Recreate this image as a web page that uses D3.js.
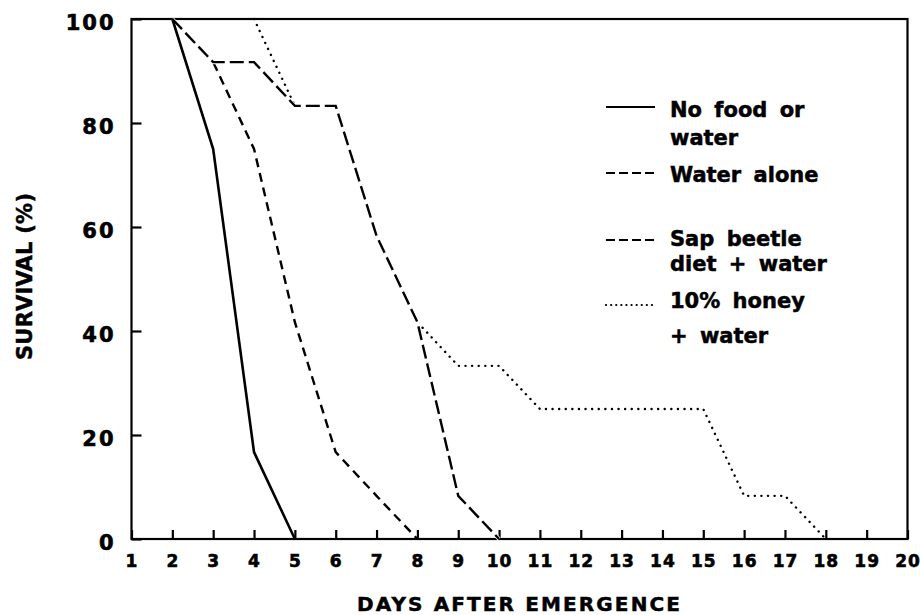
<!DOCTYPE html>
<html>
<head>
<meta charset="utf-8">
<script src="https://cdn.jsdelivr.net/npm/d3@7"></script>
<style>
  body { margin: 0; background: #fff; }
  text { font-family: "DejaVu Sans", sans-serif; font-weight: bold; fill: #000; }
</style>
</head>
<body>
<div id="chart"></div>
<script>
// survival (%) of 12 adults per treatment
const noFoodDays = [2, 3, 4, 5];
const noFoodSurvival = [100, 75, 16.7, 0];

const waterDays = [2, 3, 4, 5, 6, 7, 8];
const waterSurvival = [100, 91.7, 75, 41.7, 16.7, 8.3, 0];

const sapDays = [2, 3, 4, 5, 6, 7, 8, 9, 10];
const sapSurvival = [100, 91.7, 91.7, 83.3, 83.3, 58.3, 41.7, 8.3, 0];

const honeyDays = [4, 5, 6, 7, 8, 9, 10, 11, 12, 13, 14, 15, 16, 17, 18];
const honeySurvival = [100, 83.3, 83.3, 58.3, 41.7, 33.3, 33.3, 25, 25, 25, 25, 25, 8.3, 8.3, 0];

const xTicks = d3.range(1, 21);
const yTicks = [0, 20, 40, 60, 80, 100];

const legendLabels = [
    ["No food or", "water"],
    ["Water alone"],
    ["Sap beetle", "diet + water"],
    ["10% honey", "+ water"]
];

const width = 920, height = 615;
const plotLeft = 131.5, plotRight = 907.5, plotTop = 19, plotBottom = 539;

const svg = d3.select("#chart")
    .append("svg")
    .attr("width", width)
    .attr("height", height);

const x = d3.scaleLinear().domain([1, 20]).range([plotLeft, plotRight]);
const y = d3.scaleLinear().domain([0, 100]).range([plotBottom, plotTop]);

// frame
svg.append("rect")
    .attr("x", plotLeft).attr("y", plotTop)
    .attr("width", plotRight - plotLeft).attr("height", plotBottom - plotTop)
    .attr("fill", "none")
    .attr("stroke", "#000")
    .attr("stroke-width", 2.2);

const xAxis = svg.append("g")
    .attr("transform", `translate(0,${plotBottom})`)
    .call(d3.axisBottom(x).tickValues(xTicks).tickSize(-9).tickPadding(16).tickFormat(d3.format("d")));

const yAxis = svg.append("g")
    .attr("transform", `translate(${plotLeft},0)`)
    .call(d3.axisLeft(y).tickValues(yTicks).tickSize(-10).tickPadding(16));

[xAxis, yAxis].forEach(g => {
    g.select(".domain").remove();
    g.selectAll(".tick line").attr("stroke", "#000").attr("stroke-width", 2.2);
    g.selectAll(".tick text")
        .attr("fill", "#000")
        .attr("stroke", "#000")
        .attr("stroke-width", 0.6)
        .style("font-family", "'DejaVu Sans', sans-serif")
        .style("font-weight", "bold");
});
xAxis.selectAll(".tick text").style("font-size", "17px").attr("letter-spacing", 1);
yAxis.selectAll(".tick text").style("font-size", "21px").attr("letter-spacing", 2).attr("dy", "0.48em");

// axis titles
svg.append("text")
    .attr("x", (plotLeft + plotRight) / 2 - 1)
    .attr("y", 611)
    .attr("text-anchor", "middle")
    .attr("font-size", 20)
    .attr("stroke", "#000").attr("stroke-width", 0.5)
    .attr("textLength", 323)
    .attr("lengthAdjust", "spacing")
    .text("DAYS AFTER EMERGENCE");

svg.append("text")
    .attr("transform", "translate(31.5,276.5) rotate(-90)")
    .attr("text-anchor", "middle")
    .attr("font-size", 21)
    .attr("stroke", "#000").attr("stroke-width", 0.5)
    .attr("textLength", 167)
    .attr("lengthAdjust", "spacing")
    .text("SURVIVAL (%)");

const line = d3.line().x(d => x(d[0])).y(d => y(d[1]));
const pairs = (days, vals) => days.map((d, i) => [d, vals[i]]);

const series = [
    { days: noFoodDays, vals: noFoodSurvival, dash: null, w: 2.6, cap: "butt" },
    { days: waterDays, vals: waterSurvival, dash: "9,6", w: 2.4, cap: "butt" },
    { days: sapDays, vals: sapSurvival, dash: "14,5", w: 2.4, cap: "butt" },
    { days: honeyDays, vals: honeySurvival, dash: "0.1,6.5", w: 2.4, cap: "round" }
];

const plot = svg.append("g");

// honey first, then water alone, sap beetle over a white halo, solid on top
[3, 1, 2, 0].forEach(i => {
    const s = series[i];
    const data = pairs(s.days, s.vals);
    if (i === 2) {
        plot.append("path")
            .attr("d", line(data))
            .attr("fill", "none")
            .attr("stroke", "#fff")
            .attr("stroke-width", 4);
    }
    plot.append("path")
        .attr("d", line(data))
        .attr("fill", "none")
        .attr("stroke", "#000")
        .attr("stroke-width", s.w)
        .attr("stroke-dasharray", s.dash)
        .attr("stroke-linecap", s.cap)
        .attr("stroke-linejoin", "miter");
});

// legend
const legendY = [107, 173, 240, 305];
const legendBaselines = [[117, 145], [182], [246, 271], [308, 343]];
const legend = svg.append("g");

series.forEach((s, i) => {
    legend.append("line")
        .attr("x1", 606).attr("x2", 655)
        .attr("y1", legendY[i]).attr("y2", legendY[i])
        .attr("stroke", "#000")
        .attr("stroke-width", 2.2)
        .attr("stroke-dasharray", i === 3 ? "0.1,5" : (i === 0 ? null : "9,4"))
        .attr("stroke-linecap", i === 3 ? "round" : "butt");
    legendLabels[i].forEach((t, j) => {
        legend.append("text")
            .attr("x", 670)
            .attr("y", legendBaselines[i][j])
            .attr("font-size", 21)
            .attr("word-spacing", 5)
            .attr("stroke", "#000").attr("stroke-width", 0.5)
            .text(t);
    });
});
</script>
</body>
</html>
